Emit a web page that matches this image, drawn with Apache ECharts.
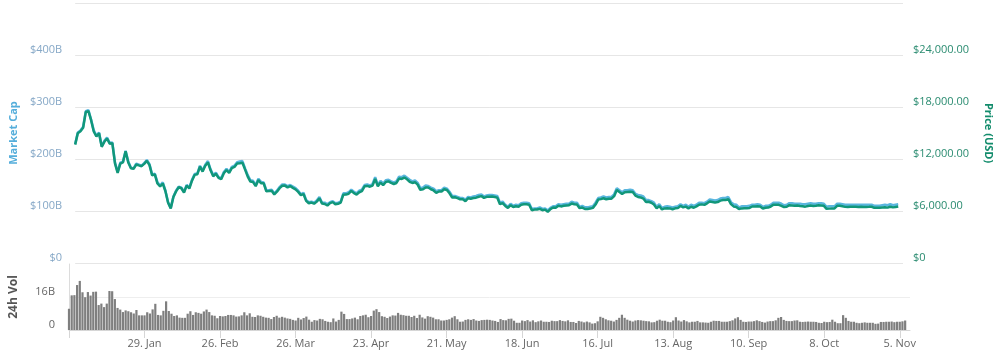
<!DOCTYPE html>
<html><head><meta charset="utf-8">
<script src="https://cdn.jsdelivr.net/npm/echarts@6/dist/echarts.min.js"></script>
<style>html,body{margin:0;padding:0;background:#fff}#c{width:1002px;height:364px}</style>
</head><body><div id="c"></div>
<script>
// Daily data, index 0 = 2018-01-01 (last = 2018-11-07)
const startDate = '2018-01-01';

const priceUsd = [
  // Jan
  13657,14982,15201,15599,17429,17527,16477,15170,14595,14973,13405,13980,14360,13772,13819,11490,10400,11474,11607,12899,11600,10931,10868,11359,11259,11171,11440,11787,11296,10106,10221,
  // Feb
  9170,8830,9174,8277,6955,6300,7621,8265,8736,8621,8129,8926,8598,9494,10166,10233,11112,10551,11225,11600,10690,10005,10301,9813,9664,10366,10725,10397,
  // Mar
  10951,11086,11489,11512,11573,10779,9965,9395,9337,8866,9578,9205,9194,8269,8300,8338,7916,8223,8630,8913,8929,8728,8879,8668,8495,8209,7833,7954,7165,6891,6973,
  // Apr
  6845,7083,7457,6854,6811,6636,6911,7023,6771,6834,6968,7889,7895,7986,8329,8058,7902,8163,8294,8845,8895,8802,8930,9697,8845,9281,8987,9348,9419,9240,
  // May
  9119,9235,9743,9700,9858,9654,9373,9234,9325,9044,8441,8504,8723,8716,8510,8368,8094,8250,8247,8513,8418,8041,7557,7587,7481,7355,7368,7136,7472,7406,7494,
  // Jun
  7541,7643,7720,7514,7633,7653,7679,7624,7531,6786,6906,6582,6349,6675,6456,6550,6499,6734,6769,6776,6729,6083,6162,6173,6249,6093,6157,5903,6218,6404,
  // Jul
  6385,6614,6529,6597,6639,6673,6857,6773,6741,6329,6394,6228,6238,6276,6359,6741,7321,7370,7466,7355,7419,7418,7711,8424,8181,7951,8166,8193,8218,8180,7780,
  // Aug
  7625,7567,7434,7032,7068,6951,6753,6305,6568,6184,6295,6322,6297,6199,6308,6334,6580,6423,6506,6308,6488,6376,6534,6719,6763,6707,6884,7096,7047,6978,7037,
  // Sep
  7193,7272,7260,7361,6793,6529,6467,6225,6300,6329,6321,6351,6517,6512,6543,6517,6281,6371,6398,6519,6734,6721,6710,6595,6446,6495,6676,6644,6601,6625,
  // Oct
  6589,6556,6502,6576,6622,6588,6603,6653,6640,6595,6254,6274,6285,6290,6596,6597,6544,6476,6465,6489,6482,6487,6475,6484,6470,6474,6480,6487,6365,6376,6371,
  // Nov
  6410,6435,6388,6487,6419,6461,6530
];

const marketCapB = [
  229,251,255,262,292,294,276,255,245,251,225,235,241,231,232,193,175,193,195,216,195,183,182,191,189,187,192,198,190,170,172,
  155,149,155,139,117,106,128,139,147,145,137,150,145,160,171,172,187,178,189,196,180,169,174,165,163,175,181,175,
  185,187,194,195,196,182,169,159,158,150,162,156,155,140,140,141,134,139,146,151,151,148,150,147,144,139,132,135,121,117,118,
  116,120,127,116,116,113,117,119,115,116,118,134,134,136,141,137,134,139,141,150,151,149,152,165,150,158,153,159,160,157,
  155,157,166,165,168,164,160,157,159,154,144,145,149,148,145,143,138,140,140,145,143,137,129,129,127,125,125,122,127,126,128,
  129,131,132,128,130,131,131,130,129,116,118,112,108,114,110,112,111,115,116,116,115,104,105,105,107,104,105,101,106,109,
  109,113,112,113,114,114,118,116,116,108,110,107,107,108,109,116,125,126,128,126,127,127,132,144,140,136,140,140,141,140,133,
  131,130,128,121,121,119,116,108,113,106,108,109,108,107,108,109,113,110,112,108,112,110,112,116,116,115,118,122,121,120,121,
  124,125,125,127,117,113,112,107,109,109,109,110,112,112,113,112,108,110,110,112,116,116,116,114,111,112,115,115,114,114,
  114,113,113,114,115,114,114,115,115,114,108,109,109,109,114,114,113,112,112,112,112,112,112,112,112,112,112,112,110,110,110,
  111,112,111,113,111,112,113
];

const volumeB = [
  10.3,16.8,16.9,21.8,23.8,18.3,15.9,18.4,16.7,18.5,18.6,12.1,12.8,11.1,12.8,18.9,18.8,15.0,10.7,9.9,8.7,9.5,9.1,8.6,8.0,9.7,7.1,7.1,7.1,8.6,8.0,
  10.0,12.7,7.3,7.1,9.3,13.9,9.2,7.9,6.8,7.1,6.0,5.9,5.9,7.9,9.1,7.3,8.6,8.3,7.9,9.0,9.9,8.7,7.1,6.9,5.7,6.8,6.6,6.8,
  7.3,7.3,7.1,6.5,6.6,7.1,8.6,7.1,8.1,6.4,6.3,7.1,6.9,6.4,6.0,5.9,5.3,6.3,6.9,6.0,6.4,6.0,5.6,5.4,4.9,4.6,5.9,5.1,5.8,6.5,5.0,
  4.0,4.8,4.6,5.4,5.2,4.4,4.0,3.8,5.6,4.1,4.9,8.9,7.8,5.3,5.3,5.6,6.0,5.2,6.8,7.1,7.4,6.2,6.8,9.4,10.1,8.7,6.7,6.4,5.8,6.5,
  7.1,7.0,8.3,7.4,7.2,6.9,6.9,6.3,6.9,5.8,7.4,6.1,5.5,6.7,6.4,6.0,5.2,5.2,4.6,4.6,4.9,5.2,6.0,6.7,5.2,4.0,4.1,4.9,5.2,4.9,5.3,
  4.6,4.4,4.8,4.9,5.0,4.9,4.6,4.4,3.9,5.3,4.8,4.7,5.4,5.5,4.5,3.5,3.5,4.6,4.3,4.8,4.1,4.7,3.8,4.2,4.6,4.0,4.0,3.9,4.5,4.3,
  4.3,4.8,4.4,4.2,4.7,3.9,3.9,3.4,4.4,4.1,3.7,4.1,3.7,3.1,3.3,4.2,6.4,5.9,5.2,4.7,4.5,4.1,4.9,5.9,7.4,5.9,5.0,4.5,4.1,4.6,4.8,
  4.7,4.5,4.3,4.2,3.7,3.8,4.5,5.0,4.5,4.5,4.0,3.8,4.6,6.2,4.6,4.1,4.8,4.2,3.7,4.0,4.0,4.4,3.7,3.7,3.6,3.5,4.0,4.5,4.4,4.4,4.0,
  4.0,4.0,4.3,4.7,5.6,6.2,4.9,4.0,3.9,4.1,4.1,4.3,4.7,4.3,3.9,3.6,4.1,4.3,4.3,4.7,5.9,6.3,4.9,4.4,4.3,4.3,4.6,4.7,4.0,3.9,
  4.0,4.1,4.0,4.0,3.9,3.5,3.4,4.0,3.8,3.9,5.0,4.0,3.3,3.3,7.2,5.9,4.4,4.0,4.0,3.5,3.3,3.5,3.7,3.5,3.5,3.5,3.0,3.1,3.9,3.9,4.0,
  4.0,4.1,3.8,4.0,4.0,4.2,4.6
];

// Tick labels
const capTickLabels = ['$0', '$100B', '$200B', '$300B', '$400B', ''];
const priceTickLabels = ['$0', '$6,000.00', '$12,000.00', '$18,000.00', '$24,000.00', ''];
const volTickLabels = ['0', '16B', ''];
const dateTickLabels = ['29. Jan', '26. Feb', '26. Mar', '23. Apr', '21. May', '18. Jun', '16. Jul', '13. Aug', '10. Sep', '8. Oct', '5. Nov'];

const FONT = '"Open Sans", "Liberation Sans", sans-serif';
const xMax = 311.8; // axis extends a bit past the last day

const chart = echarts.init(document.getElementById('c'), null, { renderer: 'canvas' });
chart.setOption({
  animation: false,
  backgroundColor: '#ffffff',
  textStyle: { fontFamily: FONT },
  grid: [
    { left: 66, right: 92, top: 3, height: 260 },
    { left: 66, right: 92, top: 264, height: 66 }
  ],
  xAxis: [
    { type: 'value', gridIndex: 0, min: 0, max: xMax, show: false },
    {
      type: 'value', gridIndex: 1, min: 0, max: xMax, interval: 28,
      axisLine: { show: true, lineStyle: { color: '#d6d6d6', width: 1 } },
      axisTick: { show: true, length: 8, lineStyle: { color: '#d6d6d6' } },
      splitLine: { show: false },
      axisLabel: {
        margin: 8, color: '#666666', fontSize: 11, fontFamily: FONT,
        formatter: v => { const k = Math.round(v / 28); return k >= 1 ? (dateTickLabels[k - 1] || '') : ''; }
      }
    }
  ],
  yAxis: [
    {
      type: 'value', gridIndex: 0, min: 0, max: 500, interval: 100, position: 'left',
      name: 'Market Cap', nameLocation: 'middle', nameGap: 52, nameRotate: 90,
      nameTextStyle: { color: '#55aedb', fontWeight: 'bold', fontSize: 11, fontFamily: FONT },
      axisLine: { show: false }, axisTick: { show: false },
      splitLine: { show: true, lineStyle: { color: '#e6e6e6', width: 1 } },
      axisLabel: {
        margin: 13, color: '#86a8c7', fontSize: 11, fontFamily: FONT, verticalAlign: 'bottom', lineHeight: 11,
        formatter: v => capTickLabels[Math.round(v / 100)]
      }
    },
    {
      type: 'value', gridIndex: 0, min: 0, max: 30000, interval: 6000, position: 'right',
      name: 'Price (USD)', nameLocation: 'middle', nameGap: 80, nameRotate: -90,
      nameTextStyle: { color: '#138c6c', fontWeight: 'bold', fontSize: 11, fontFamily: FONT },
      axisLine: { show: false }, axisTick: { show: false },
      splitLine: { show: false },
      axisLabel: {
        margin: 10, color: '#2b8c71', fontSize: 11, fontFamily: FONT, verticalAlign: 'bottom', lineHeight: 11,
        formatter: v => priceTickLabels[Math.round(v / 6000)]
      }
    },
    {
      type: 'value', gridIndex: 1, min: 0, max: 32, interval: 16, position: 'left',
      name: '24h Vol', nameLocation: 'middle', nameGap: 49, nameRotate: 90,
      nameTextStyle: { color: '#555555', fontWeight: 'bold', fontSize: 12, fontFamily: FONT },
      axisLine: { show: true, lineStyle: { color: '#dcdcdc', width: 1 } }, axisTick: { show: false },
      splitLine: { show: true, lineStyle: { color: ['#e6e6e6', '#eeeeee', 'rgba(0,0,0,0)'], width: 1 } },
      axisLabel: {
        margin: 14, color: '#666666', fontSize: 11, fontFamily: FONT, verticalAlign: 'bottom', lineHeight: 11,
        formatter: v => volTickLabels[Math.round(v / 16)]
      }
    }
  ],
  series: [
    {
      name: 'Market Cap', type: 'line', xAxisIndex: 0, yAxisIndex: 0, z: 2,
      showSymbol: false, symbol: 'none',
      lineStyle: { color: '#5ab6de', width: 2.5 },
      data: marketCapB.map((v, i) => [i, v])
    },
    {
      name: 'Price (USD)', type: 'line', xAxisIndex: 0, yAxisIndex: 1, z: 3,
      showSymbol: false, symbol: 'none',
      lineStyle: { color: '#11977a', width: 2.5 },
      data: priceUsd.map((v, i) => [i, v])
    },
    {
      name: '24h Vol', type: 'bar', xAxisIndex: 1, yAxisIndex: 2,
      barWidth: 2.2,
      itemStyle: { color: '#7f7f7f' },
      data: volumeB.map((v, i) => [i, v])
    }
  ]
});
</script>
</body></html>
